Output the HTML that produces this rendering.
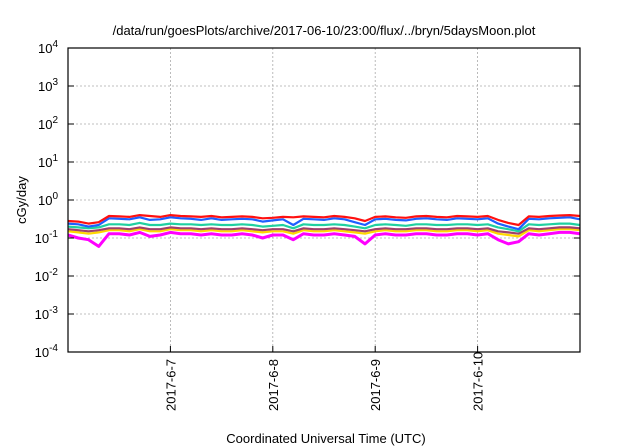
<!DOCTYPE html>
<html><head><meta charset="utf-8"><style>
body{margin:0;background:#fff;}
svg{display:block;font-family:"Liberation Sans",sans-serif;}
</style></head><body>
<svg id="chart" width="640" height="448">
<text x="324" y="35" font-size="13" text-anchor="middle">/data/run/goesPlots/archive/2017-06-10/23:00/flux/../bryn/5daysMoon.plot</text>
<text x="326" y="443" font-size="13" text-anchor="middle">Coordinated Universal Time (UTC)</text>
<text transform="translate(26,200) rotate(-90)" font-size="13" text-anchor="middle">cGy/day</text>
<g id="grid"></g><g id="series"></g><g id="axes"></g>
</svg>
<script>
const xTickLabels=["2017-6-7","2017-6-8","2017-6-9","2017-6-10"];
const xTickDays=[1,2,3,4];
const yTickExps=[-4,-3,-2,-1,0,1,2,3,4];
const seriesColors=["#ff00ff","#ffd700","#a0406a","#20d0a0","#1e5fff","#ff1010"];
const red=[0.28,0.27,0.24,0.26,0.38,0.37,0.36,0.40,0.38,0.36,0.40,0.38,0.37,0.36,0.38,0.35,0.36,0.37,0.36,0.33,0.34,0.36,0.35,0.37,0.36,0.35,0.38,0.36,0.33,0.28,0.36,0.37,0.35,0.34,0.37,0.38,0.36,0.35,0.38,0.37,0.36,0.38,0.30,0.25,0.22,0.37,0.36,0.38,0.39,0.40,0.38];
const blue=[0.24,0.23,0.20,0.22,0.33,0.32,0.31,0.35,0.30,0.31,0.35,0.33,0.32,0.30,0.33,0.30,0.31,0.32,0.31,0.27,0.29,0.31,0.22,0.32,0.31,0.30,0.33,0.31,0.26,0.22,0.31,0.32,0.30,0.29,0.32,0.33,0.31,0.30,0.33,0.32,0.31,0.33,0.24,0.20,0.17,0.32,0.31,0.33,0.34,0.35,0.31];
const teal=[0.20,0.19,0.18,0.19,0.23,0.23,0.22,0.25,0.22,0.22,0.24,0.23,0.23,0.22,0.23,0.22,0.22,0.23,0.22,0.20,0.21,0.22,0.18,0.23,0.22,0.22,0.23,0.22,0.20,0.18,0.22,0.23,0.22,0.21,0.23,0.23,0.22,0.22,0.23,0.23,0.22,0.23,0.19,0.17,0.15,0.23,0.22,0.23,0.24,0.24,0.22];
const maroon=[0.17,0.16,0.15,0.16,0.18,0.18,0.17,0.19,0.17,0.17,0.19,0.18,0.18,0.17,0.18,0.17,0.17,0.18,0.17,0.16,0.17,0.17,0.15,0.18,0.17,0.17,0.18,0.17,0.16,0.15,0.17,0.18,0.17,0.17,0.18,0.18,0.17,0.17,0.18,0.18,0.17,0.18,0.15,0.14,0.13,0.18,0.17,0.18,0.19,0.19,0.18];
const yellow=[0.15,0.14,0.13,0.14,0.16,0.16,0.15,0.17,0.15,0.15,0.17,0.16,0.16,0.15,0.16,0.15,0.15,0.16,0.15,0.14,0.15,0.15,0.13,0.16,0.15,0.15,0.16,0.15,0.14,0.13,0.15,0.16,0.15,0.15,0.16,0.16,0.15,0.15,0.16,0.16,0.15,0.16,0.13,0.12,0.11,0.16,0.15,0.16,0.17,0.17,0.16];
const magenta=[0.12,0.10,0.09,0.06,0.13,0.13,0.12,0.14,0.11,0.12,0.14,0.13,0.13,0.12,0.13,0.12,0.12,0.13,0.12,0.10,0.12,0.12,0.09,0.13,0.12,0.12,0.13,0.12,0.11,0.07,0.12,0.13,0.12,0.12,0.13,0.13,0.12,0.12,0.13,0.13,0.12,0.13,0.09,0.07,0.08,0.13,0.12,0.13,0.14,0.14,0.13];
const allSeries=[magenta,yellow,maroon,teal,blue,red];
const seriesNames=["series-magenta","series-yellow","series-maroon","series-teal","series-blue","series-red"];
const L=68,R=580,T=48,B=352,NS="http://www.w3.org/2000/svg";
const xs=d=>L+d/5*(R-L);
const ys=v=>B-(Math.log10(v)+4)/8*(B-T);
const ye=e=>B-(e+4)/8*(B-T);
function mk(tag,attrs,parent){const e=document.createElementNS(NS,tag);for(const k in attrs)e.setAttribute(k,attrs[k]);parent.appendChild(e);return e;}
const grid=document.getElementById('grid'),axes=document.getElementById('axes'),sg=document.getElementById('series');
yTickExps.forEach(e=>{const y=ye(e);
 if(e>-4&&e<4){const g=mk('line',{x1:L,x2:R,y1:y,y2:y,stroke:'#aaa','stroke-dasharray':'2,2','stroke-width':0.8},grid);
 
 }
 const t1=mk('line',{x1:L,x2:L+6,y1:y,y2:y,stroke:'#000'},axes);
 const t2=mk('line',{x1:R-6,x2:R,y1:y,y2:y,stroke:'#000'},axes);
 const tx=mk('text',{x:L-10,y:y+5,'font-size':13,'text-anchor':'end'},axes);
 
 
 tx.textContent='10';const s=mk('tspan',{dy:-6,'font-size':10},tx);s.textContent=String(e);});
xTickDays.forEach((d,i)=>{const x=xs(d);
 const g=mk('line',{x1:x,x2:x,y1:T,y2:B,stroke:'#aaa','stroke-dasharray':'2,2','stroke-width':0.8},grid);
 
 
 const t=mk('line',{x1:x,x2:x,y1:B-6,y2:B,stroke:'#000'},axes);
 const tx=mk('text',{transform:`translate(${x+5},${B+59}) rotate(-90)`,'font-size':13},axes);
 
 
 tx.textContent=xTickLabels[i];});
const fr=mk('rect',{x:L,y:T,width:R-L,height:B-T,fill:'none',stroke:'#000','stroke-width':1.2},axes);

allSeries.forEach((arr,si)=>{const n=arr.length;
 const pts=arr.map((v,i)=>xs(i*5/(n-1)).toFixed(1)+','+ys(v).toFixed(1)).join(' ');
 const p=mk('polyline',{points:pts,fill:'none',stroke:seriesColors[si],'stroke-width':si==0?3:2.2,'stroke-linejoin':'round'},sg);
 
 });
</script>
</body></html>
